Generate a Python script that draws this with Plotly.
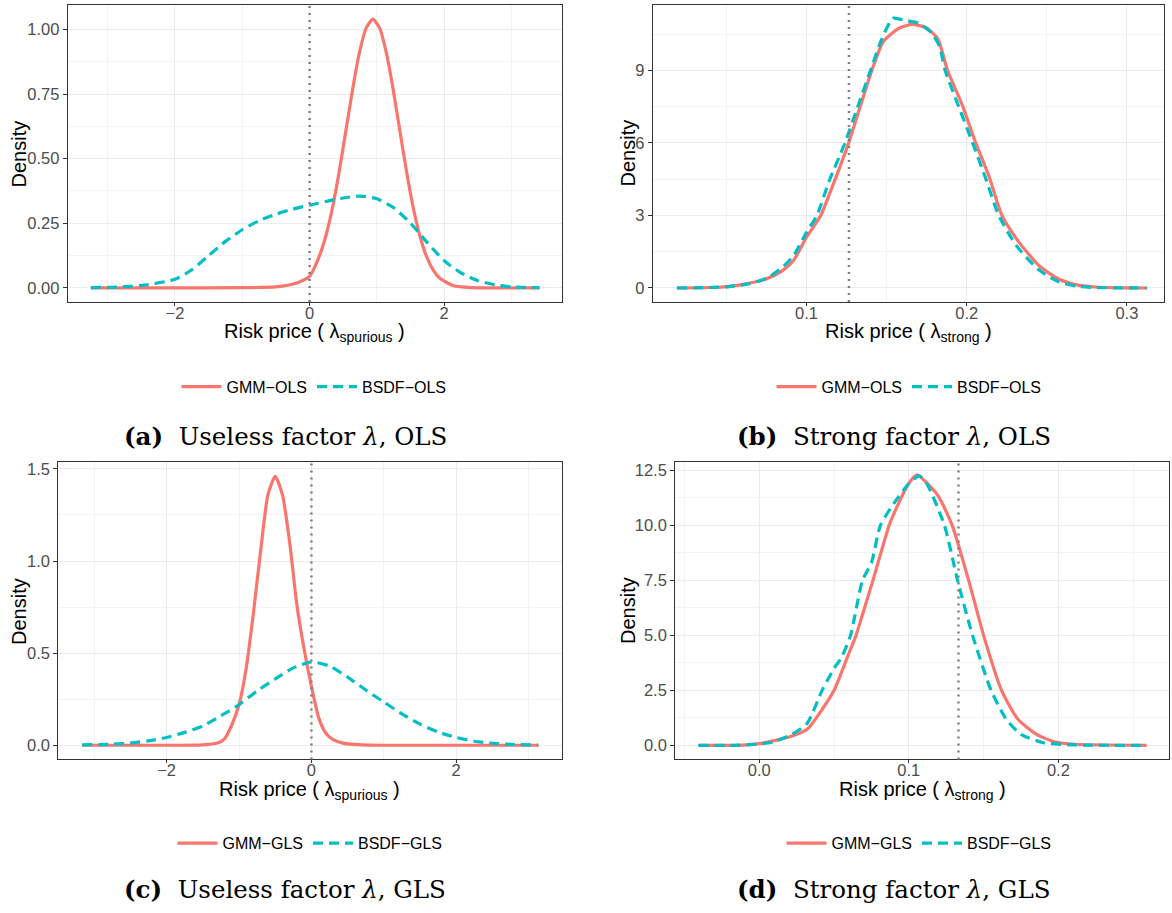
import plotly.graph_objects as go

W, H = 1172, 913

# ---------------- data ----------------
# (a) Useless factor, OLS
a_gmm_x = [-3.25, -2.0, -1.0, -0.5, -0.2, 0.0, 0.14, 0.24, 0.34, 0.44, 0.54, 0.64, 0.74, 0.84, 0.94,
           1.04, 1.14, 1.24, 1.34, 1.44, 1.54, 1.64, 1.74, 1.84, 1.94, 2.14, 2.4, 3.0, 3.416]
a_gmm_y = [0, 0, 0.001, 0.004, 0.018, 0.045, 0.12, 0.2, 0.31, 0.45, 0.61, 0.77, 0.91, 1.005, 1.04,
           1.005, 0.91, 0.77, 0.61, 0.45, 0.31, 0.2, 0.12, 0.068, 0.036, 0.008, 0.001, 0, 0]
a_bsdf_x = [-3.25, -2.8, -2.4, -2.0, -1.75, -1.5, -1.25, -1.0, -0.75, -0.5, -0.25, 0, 0.25, 0.5, 0.75,
            1.0, 1.25, 1.5, 1.75, 2.0, 2.25, 2.5, 2.75, 3.0, 3.416]
a_bsdf_y = [0.001, 0.004, 0.013, 0.033, 0.07, 0.125, 0.18, 0.225, 0.26, 0.285, 0.305, 0.32, 0.335, 0.348,
            0.355, 0.345, 0.31, 0.25, 0.175, 0.105, 0.058, 0.028, 0.012, 0.004, 0.001]
a_vline = 0.0

# (b) Strong factor, OLS
b_gmm_x = [0.0191, 0.04, 0.052, 0.063, 0.075, 0.085, 0.092, 0.1, 0.1089, 0.115, 0.1263, 0.1335, 0.1408,
           0.148, 0.158, 0.166, 0.175, 0.182, 0.188, 0.197, 0.2056, 0.214, 0.222, 0.232, 0.245, 0.257,
           0.268, 0.28, 0.3, 0.3124]
b_gmm_y = [0, 0.02, 0.07, 0.18, 0.38, 0.72, 1.15, 2.1, 3.0, 4.0, 6.0, 7.5, 9.0, 10.2, 10.75, 10.9, 10.75,
           10.3, 9.0, 7.6, 6.0, 4.6, 3.0, 1.95, 0.93, 0.38, 0.14, 0.04, 0.005, 0]
b_bsdf_x = [0.0191, 0.04, 0.052, 0.063, 0.075, 0.085, 0.092, 0.1, 0.1065, 0.114, 0.124, 0.132, 0.14,
            0.147, 0.154, 0.162, 0.17, 0.178, 0.183, 0.1865, 0.195, 0.2037, 0.212, 0.22, 0.231, 0.245,
            0.257, 0.268, 0.28, 0.3124]
b_bsdf_y = [0, 0.02, 0.06, 0.16, 0.4, 0.85, 1.35, 2.3, 3.0, 4.4, 6.0, 7.5, 9.0, 10.3, 11.15, 11.05,
            10.95, 10.55, 10.0, 9.0, 7.5, 6.0, 4.5, 3.0, 1.75, 0.75, 0.27, 0.08, 0.02, 0]
b_vline = 0.1265

# (c) Useless factor, GLS
c_gmm_x = [-3.166, -2.0, -1.5, -1.3, -1.2, -1.1, -1.0, -0.9, -0.8, -0.7, -0.6, -0.5, -0.4, -0.3, -0.2,
           -0.1, 0.0, 0.1, 0.2, 0.3, 0.45, 0.7, 1.0, 3.135]
c_gmm_y = [0, 0, 0.002, 0.012, 0.035, 0.11, 0.22, 0.42, 0.72, 1.06, 1.36, 1.46, 1.36, 1.1, 0.76,
           0.52, 0.32, 0.15, 0.065, 0.03, 0.01, 0.002, 0, 0]
c_bsdf_x = [-3.166, -2.75, -2.5, -2.25, -2.0, -1.75, -1.5, -1.25, -1.0, -0.75, -0.5, -0.25, 0.0, 0.25,
            0.5, 0.75, 1.0, 1.25, 1.5, 1.75, 2.0, 2.25, 2.5, 2.75, 3.135]
c_bsdf_y = [0.002, 0.006, 0.012, 0.024, 0.042, 0.07, 0.105, 0.16, 0.22, 0.295, 0.36, 0.42, 0.452, 0.43,
            0.37, 0.3, 0.235, 0.17, 0.115, 0.072, 0.042, 0.022, 0.011, 0.005, 0.001]
c_vline = 0.0

# (d) Strong factor, GLS
d_gmm_x = [-0.0407, -0.016, 0.0, 0.0093, 0.0219, 0.032, 0.042, 0.05, 0.0596, 0.0647, 0.0697, 0.076,
           0.0797, 0.0868, 0.0898, 0.0999, 0.1054, 0.1125, 0.12, 0.129, 0.14, 0.15, 0.162, 0.1728,
           0.1854, 0.198, 0.2106, 0.2591]
d_gmm_y = [0, 0.0, 0.08, 0.2, 0.42, 0.73, 1.63, 2.5, 4.13, 5.0, 6.1, 7.5, 8.37, 10.0, 10.5, 11.9, 12.3,
           11.9, 11.3, 10.0, 7.5, 5.0, 2.5, 1.2, 0.5, 0.15, 0.05, 0]
d_bsdf_x = [-0.0407, -0.016, 0.0, 0.0093, 0.0219, 0.032, 0.042, 0.05, 0.055, 0.061, 0.069, 0.075,
            0.081, 0.09, 0.1, 0.107, 0.112, 0.1238, 0.1326, 0.1426, 0.155, 0.165, 0.175, 0.19, 0.2106,
            0.2591]
d_bsdf_y = [0, 0.0, 0.06, 0.15, 0.5, 1.0, 2.5, 3.5, 4.0, 5.0, 7.5, 8.3, 10.0, 11.0, 11.9, 12.25, 11.9,
            10.0, 7.5, 5.0, 2.5, 1.2, 0.5, 0.12, 0.02, 0]
d_vline = 0.1332

gmm_ols, bsdf_ols = "GMM\u2212OLS", "BSDF\u2212OLS"
gmm_gls, bsdf_gls = "GMM\u2212GLS", "BSDF\u2212GLS"
captions = ["<b>(a)</b>\u00a0\u00a0Useless factor <i>\u03bb</i>, OLS",
            "<b>(b)</b>\u00a0\u00a0Strong factor <i>\u03bb</i>, OLS",
            "<b>(c)</b>\u00a0\u00a0Useless factor <i>\u03bb</i>, GLS",
            "<b>(d)</b>\u00a0\u00a0Strong factor <i>\u03bb</i>, GLS"]
xtitles = ["Risk price ( \u03bb<sub>spurious</sub> )", "Risk price ( \u03bb<sub>strong</sub> )",
           "Risk price ( \u03bb<sub>spurious</sub> )", "Risk price ( \u03bb<sub>strong</sub> )"]
ytitle = "Density"

# ---------------- styling ----------------
RED, CYAN = "#F8766D", "#00BFC4"
SANS = "Liberation Sans, Arial, sans-serif"
SERIF = "DejaVu Serif, serif"

# panel pixel boxes: (left, right, top, bottom)
boxes = [(67.7, 562.0, 2.0, 300.0), (652.9, 1164.4, 2.0, 300.0),
         (58.3, 561.6, 461.0, 758.9), (675.2, 1169.3, 461.0, 758.9)]
xranges = [[-3.594, 3.75], [0.0041, 0.3234], [-3.496, 3.456], [-0.05625, 0.2742]]
yranges = [[-0.0546, 1.0946], [-0.58, 11.70], [-0.0768, 1.535], [-0.64, 12.86]]
xticks = [(0, 2, 1, 2, ""), (0, 0.1, 0.05, 0.1, ""), (0, 2, 1, 2, ""), (0, 0.1, 0.05, 0.1, ".1f")]
yticks = [(0, 0.25, 0.125, 0.25, ".2f"), (0, 3, 1.5, 3, ""), (0, 0.5, 0.25, 0.5, ".1f"),
          (0, 2.5, 1.25, 2.5, ".1f")]
legend_pos = [(314, 385), (909, 385), (310, 843), (919, 843)]
caption_pos = [(285, 435), (894, 435), (285, 889), (893, 889)]

series = [
    (a_gmm_x, a_gmm_y, a_bsdf_x, a_bsdf_y, a_vline, gmm_ols, bsdf_ols),
    (b_gmm_x, b_gmm_y, b_bsdf_x, b_bsdf_y, b_vline, gmm_ols, bsdf_ols),
    (c_gmm_x, c_gmm_y, c_bsdf_x, c_bsdf_y, c_vline, gmm_gls, bsdf_gls),
    (d_gmm_x, d_gmm_y, d_bsdf_x, d_bsdf_y, d_vline, gmm_gls, bsdf_gls),
]

fig = go.Figure()
layout = dict(width=W, height=H, margin=dict(l=0, r=0, t=0, b=0), autosize=False,
              paper_bgcolor="white", plot_bgcolor="white", font=dict(family=SANS, color="black"),
              annotations=[], shapes=[])

for i, (gx, gy, bx, by, vl, gname, bname) in enumerate(series):
    n = "" if i == 0 else str(i + 1)
    xa, ya = "x" + n, "y" + n
    leg = "legend" + n
    fig.add_trace(go.Scatter(x=gx, y=gy, mode="lines", name=gname, xaxis=xa, yaxis=ya, legend=leg,
                             line=dict(color=RED, width=3.2, shape="spline", smoothing=0.6)))
    fig.add_trace(go.Scatter(x=bx, y=by, mode="lines", name=bname, xaxis=xa, yaxis=ya, legend=leg,
                             line=dict(color=CYAN, width=3.2, dash="10px,6px", shape="spline",
                                       smoothing=0.6)))
    l, r, t, b = boxes[i]
    t0, dt, mt0, mdt, fmt = xticks[i]
    layout["xaxis" + n] = dict(
        domain=[l / W, r / W], range=xranges[i], anchor=ya, tickmode="linear", tick0=t0, dtick=dt,
        tickformat=fmt, showline=True, mirror=True, linecolor="#333333", linewidth=1.1,
        ticks="outside", ticklen=3, tickcolor="#333333", tickwidth=1, zeroline=False,
        showgrid=True, gridcolor="#EBEBEB", gridwidth=1.1, ticklabelstandoff=-7,
        tickfont=dict(size=16.5, color="#4D4D4D", family=SANS),
        minor=dict(tickmode="linear", tick0=mt0, dtick=mdt, showgrid=True, gridcolor="#F3F3F3",
                   gridwidth=0.8, ticks=""))
    t0, dt, mt0, mdt, fmt = yticks[i]
    layout["yaxis" + n] = dict(
        domain=[1 - b / H, 1 - t / H], range=yranges[i], anchor=xa, tickmode="linear", tick0=t0,
        dtick=dt, tickformat=fmt, showline=True, mirror=True, linecolor="#333333", linewidth=1.1,
        ticks="outside", ticklen=4, tickcolor="#333333", tickwidth=1, zeroline=False,
        showgrid=True, gridcolor="#EBEBEB", gridwidth=1.1,
        tickfont=dict(size=16.5, color="#4D4D4D", family=SANS),
        minor=dict(tickmode="linear", tick0=mt0, dtick=mdt, showgrid=True, gridcolor="#F3F3F3",
                   gridwidth=0.8, ticks=""))
    # vertical reference line
    layout["shapes"].append(dict(type="line", xref=xa, yref=ya + " domain", x0=vl, x1=vl, y0=0, y1=1,
                                 line=dict(color="#808080", width=2.5, dash="2px,5px"), layer="above"))
    # axis titles
    cx = (l + r) / 2
    layout["annotations"].append(dict(text=xtitles[i], x=cx / W, y=1 - (b + 31) / H, xref="paper",
                                      yref="paper", xanchor="center", yanchor="middle", showarrow=False,
                                      font=dict(size=20, color="black", family=SANS)))
    ylab_x = 19 if i % 2 == 0 else 628
    layout["annotations"].append(dict(text=ytitle, x=ylab_x / W, y=1 - (t + b) / 2 / H, xref="paper",
                                      yref="paper", xanchor="center", yanchor="middle", textangle=-90,
                                      showarrow=False, font=dict(size=20, color="black", family=SANS)))
    # caption
    px, py = caption_pos[i]
    layout["annotations"].append(dict(text=captions[i], x=px / W, y=1 - py / H, xref="paper",
                                      yref="paper", xanchor="center", yanchor="middle", showarrow=False,
                                      font=dict(size=24.5, color="black", family=SERIF)))
    # legend
    lx, ly = legend_pos[i]
    layout[leg] = dict(orientation="h", x=lx / W, y=1 - ly / H, xanchor="center", yanchor="middle",
                       xref="paper", yref="paper", bgcolor="rgba(0,0,0,0)",
                       font=dict(size=16, color="black", family=SANS), itemwidth=40)

fig.update_layout(**layout)
fig.write_html("out.html")
